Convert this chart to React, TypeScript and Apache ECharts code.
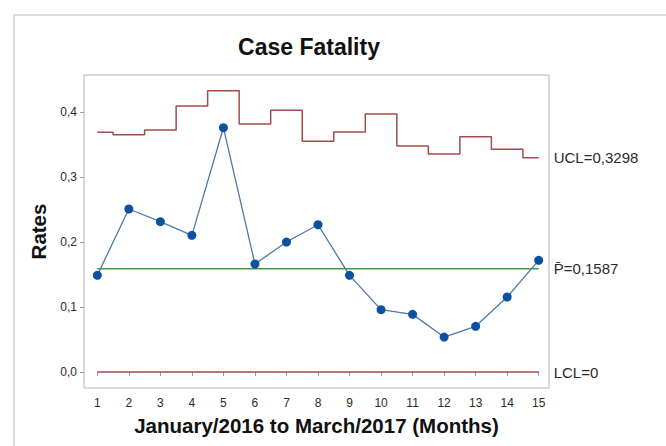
import { useEffect, useRef } from "react";
import * as echarts from "echarts";

const months = [1, 2, 3, 4, 5, 6, 7, 8, 9, 10, 11, 12, 13, 14, 15];
const rates = [0.1487, 0.2508, 0.2313, 0.2103, 0.3759, 0.1662, 0.2, 0.2266, 0.1487, 0.0959, 0.0887, 0.0538, 0.0703, 0.1154, 0.1718];
const ucl = [0.3688, 0.3651, 0.3723, 0.4092, 0.4328, 0.3815, 0.4026, 0.3549, 0.3692, 0.3969, 0.3477, 0.3354, 0.362, 0.3426, 0.3298];
const centerValue = 0.1587;
const lclValue = 0;
const yTicks = [0, 0.1, 0.2, 0.3, 0.4];
const title = "Case Fatality";
const xName = "January/2016 to March/2017 (Months)";
const yName = "Rates";
const uclLabel = "UCL=0,3298";
const centerLabel = "P\u0304=0,1587";
const lclLabel = "LCL=0";

const FONT = "'Liberation Sans', Arial, sans-serif";
const LIMIT_COLOR = "#a24d4d";

export default function App() {
  const ref = useRef<HTMLDivElement>(null);
  useEffect(() => {
    if (!ref.current) return;
    const chart = echarts.init(ref.current, undefined, { renderer: "svg" });
    const first = months[0];
    const last = months[months.length - 1];
    const endLabel = (text: string) => ({
      show: true,
      formatter: text,
      distance: 15,
      fontSize: 15,
      color: "#2a2a2a",
      fontFamily: FONT,
    });
    chart.setOption({
      animation: false,
      backgroundColor: "#ffffff",
      graphic: [
        {
          type: "rect",
          shape: { x: 14, y: 15, width: 720, height: 520 },
          style: { fill: "none", stroke: "#dcdcdc", lineWidth: 2 },
          silent: true,
        },
        {
          type: "text",
          x: 309,
          y: 47,
          style: {
            text: title,
            font: `bold 23px ${FONT}`,
            fill: "#111",
            textAlign: "center",
            textVerticalAlign: "middle",
          },
        },
      ],
      grid: {
        left: 84,
        top: 75,
        right: 117,
        bottom: 58,
        show: true,
        borderColor: "#b4b4b4",
        borderWidth: 1,
        backgroundColor: "#fff",
      },
      xAxis: {
        type: "value",
        min: 0.578,
        max: 15.327,
        name: xName,
        nameLocation: "middle",
        nameGap: 27,
        nameTextStyle: { fontSize: 20.5, fontWeight: "bold", color: "#111", fontFamily: FONT },
        splitLine: { show: false },
        axisLine: { show: false },
        axisTick: { show: true, customValues: months, length: 4, lineStyle: { color: "#999" } },
        axisLabel: {
          customValues: months,
          margin: 9,
          fontSize: 12,
          color: "#2a2a2a",
          fontFamily: FONT,
        },
      },
      yAxis: {
        type: "value",
        min: -0.0246,
        max: 0.457,
        name: yName,
        nameLocation: "middle",
        nameGap: 32,
        nameTextStyle: { fontSize: 20.5, fontWeight: "bold", color: "#111", fontFamily: FONT },
        splitLine: { show: false },
        axisLine: { show: false },
        axisTick: { show: true, customValues: yTicks, length: 4, lineStyle: { color: "#999" } },
        axisLabel: {
          customValues: yTicks,
          margin: 7,
          fontSize: 12,
          color: "#2a2a2a",
          fontFamily: FONT,
          formatter: (v: number) => v.toFixed(1).replace(".", ","),
        },
      },
      series: [
        {
          name: "UCL",
          type: "line",
          step: "middle",
          data: months.map((m, i) => [m, ucl[i]]),
          showSymbol: false,
          symbol: "none",
          lineStyle: { color: LIMIT_COLOR, width: 1.5 },
          endLabel: endLabel(uclLabel),
          z: 2,
        },
        {
          name: "Center",
          type: "line",
          data: [
            [first, centerValue],
            [last, centerValue],
          ],
          symbol: "none",
          lineStyle: { color: "#3f9a4c", width: 1.5 },
          endLabel: endLabel(centerLabel),
          z: 2,
        },
        {
          name: "LCL",
          type: "line",
          data: [
            [first, lclValue],
            [last, lclValue],
          ],
          symbol: "none",
          lineStyle: { color: LIMIT_COLOR, width: 1.5 },
          endLabel: endLabel(lclLabel),
          z: 2,
        },
        {
          name: "Rates",
          type: "line",
          data: months.map((m, i) => [m, rates[i]]),
          symbol: "circle",
          symbolSize: 9,
          showSymbol: true,
          itemStyle: { color: "#0c509f" },
          lineStyle: { color: "#4a7aa8", width: 1.3 },
          z: 3,
        },
      ],
    });
    return () => chart.dispose();
  }, []);
  return <div ref={ref} style={{ position: "absolute", left: 0, top: 0, width: 666, height: 446 }} />;
}
